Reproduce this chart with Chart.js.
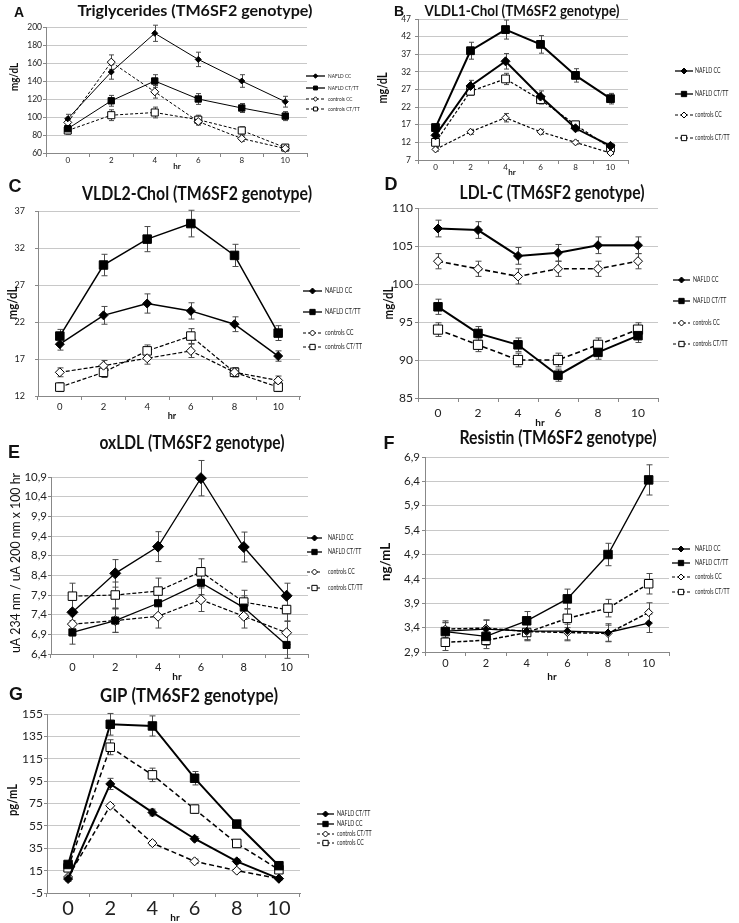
<!DOCTYPE html>
<html>
<head>
<meta charset="utf-8">
<script src="https://cdn.jsdelivr.net/npm/chart.js@4.4.0/dist/chart.umd.min.js"></script>
<style>
html, body { margin: 0; padding: 0; background: #fff; }
#wrap { position: relative; width: 739px; height: 923px; }
#wrap canvas { position: absolute; left: 0; top: 0; }
</style>
</head>
<body>
<div id="wrap">
<canvas id="pA" width="739" height="923"></canvas>
<canvas id="pB" width="739" height="923"></canvas>
<canvas id="pC" width="739" height="923"></canvas>
<canvas id="pD" width="739" height="923"></canvas>
<canvas id="pE" width="739" height="923"></canvas>
<canvas id="pF" width="739" height="923"></canvas>
<canvas id="pG" width="739" height="923"></canvas>
</div>
<script>
var hours = ['0', '2', '4', '6', '8', '10'];
var legendLabels = ['NAFLD CC', 'NAFLD CT/TT', 'controls CC', 'controls CT/TT'];
var gLegendLabels = ['NAFLD CT/TT', 'NAFLD CC', 'controls CT/TT', 'controls CC'];

// A  triglycerides
var aNafldCC = [98, 150, 193, 164, 140, 117];
var aNafldCCErr = [5, 8, 9, 8, 7, 6];
var aNafldCTTT = [87, 118, 140, 120, 110, 101];
var aNafldCTTTErr = [4, 6, 7, 6, 5, 5];
var aCtrlCC = [94, 161, 128, 95, 76, 65];
var aCtrlCCErr = [4, 8, 7, 4, 3, 2];
var aCtrlCTTT = [85, 102, 105, 97, 85, 66];
var aCtrlCTTTErr = [4, 6, 6, 5, 4, 2];
var aAxis = [60, 200, 20];

// B  VLDL1-Chol
var bNafldCC = [14, 28, 35, 25, 16, 11];
var bNafldCCErr = [1, 1.6, 2.2, 1.6, 0.8, 0.5];
var bNafldCTTT = [16.2, 38, 44, 39.8, 31, 24.4];
var bNafldCTTTErr = [1, 2.4, 2.7, 2.5, 1.9, 1.5];
var bCtrlCC = [10, 15, 19, 15, 12, 9];
var bCtrlCCErr = [0.5, 0.7, 1.2, 0.7, 0.5, 0.4];
var bCtrlCTTT = [12, 26.5, 30, 24.1, 17, 10.4];
var bCtrlCTTTErr = [1, 1.1, 1.6, 1.2, 0.9, 0.6];
var bAxis = [7, 47, 5];

// C  VLDL2-Chol
var cNafldCC = [19, 22.9, 24.5, 23.5, 21.7, 17.4];
var cNafldCCErr = [0.8, 1.2, 1.3, 1.1, 1, 0.7];
var cNafldCTTT = [20.1, 29.7, 33.2, 35.3, 31, 20.5];
var cNafldCTTTErr = [0.9, 1.45, 1.7, 1.8, 1.5, 1];
var cCtrlCC = [15.2, 16.1, 17.1, 18.1, 15.2, 14.1];
var cCtrlCCErr = [0.6, 0.7, 0.8, 0.9, 0.6, 0.6];
var cCtrlCTTT = [13.2, 15.2, 18.1, 20.1, 15.2, 13.2];
var cCtrlCTTTErr = [0.6, 0.7, 0.8, 1, 0.6, 0.6];
var cAxis = [12, 37, 5];

// D  LDL-C
var dNafldCC = [107.3, 107.1, 103.7, 104.1, 105.1, 105.1];
var dNafldCCErr = [1.1, 1.1, 1.1, 1.1, 1.1, 1.1];
var dNafldCTTT = [97, 93.5, 92, 88, 91, 93.2];
var dNafldCTTTErr = [1, 0.9, 0.9, 0.8, 0.9, 0.9];
var dCtrlCC = [103, 102, 101, 102, 102, 103];
var dCtrlCCErr = [1, 1, 1, 1, 1, 1];
var dCtrlCTTT = [94, 92, 90, 90, 92, 94];
var dCtrlCTTTErr = [0.9, 0.9, 0.9, 0.9, 0.9, 0.9];
var dAxis = [85, 110, 5];

// E  oxLDL
var eNafldCC = [7.46, 8.45, 9.13, 10.87, 9.12, 7.88];
var eNafldCCErr = [0.33, 0.35, 0.38, 0.45, 0.38, 0.32];
var eNafldCTTT = [6.95, 7.25, 7.69, 8.21, 7.58, 6.63];
var eNafldCTTTErr = [0.3, 0.3, 0.3, 0.3, 0.3, 0.34];
var eCtrlCC = [7.16, 7.25, 7.36, 7.78, 7.36, 6.94];
var eCtrlCCErr = [0.3, 0.3, 0.3, 0.3, 0.3, 0.3];
var eCtrlCTTT = [7.87, 7.9, 8.0, 8.49, 7.72, 7.53];
var eCtrlCTTTErr = [0.33, 0.33, 0.33, 0.33, 0.3, 0.3];
var eAxis = [6.4, 10.9, 0.5];

// F  resistin
var fNafldCC = [3.33, 3.37, 3.33, 3.33, 3.3, 3.49];
var fNafldCCErr = [0.18, 0.18, 0.18, 0.18, 0.18, 0.19];
var fNafldCTTT = [3.32, 3.22, 3.54, 3.99, 4.9, 6.43];
var fNafldCTTTErr = [0.18, 0.18, 0.19, 0.2, 0.23, 0.31];
var fCtrlCC = [3.37, 3.39, 3.32, 3.3, 3.28, 3.71];
var fCtrlCCErr = [0.17, 0.17, 0.17, 0.17, 0.17, 0.2];
var fCtrlCTTT = [3.1, 3.14, 3.3, 3.59, 3.8, 4.3];
var fCtrlCTTTErr = [0.17, 0.17, 0.17, 0.19, 0.18, 0.21];
var fAxis = [2.9, 6.9, 0.5];

// G  GIP (legend order differs)
var gNafldCTTT = [7.5, 92.5, 67, 43.5, 23.3, 7.8];
var gNafldCTTTErr = [2, 5, 3, 2, 2, 1];
var gNafldCC = [20.5, 145.8, 144.3, 97.6, 56.6, 19.4];
var gNafldCCErr = [2, 9.7, 9, 6, 3, 2];
var gCtrlCTTT = [9.3, 73, 39.6, 23.3, 15, 7.8];
var gCtrlCTTTErr = [1.5, 2, 2, 2, 1.5, 1];
var gCtrlCC = [17.5, 125.3, 100.6, 70, 39.3, 15.8];
var gCtrlCCErr = [2, 6.7, 6, 3.5, 2, 1.5];
var gAxis = [-5, 155, 20];

var W = 739, H = 923;
var FAM = 'Lato, "Open Sans", sans-serif';
var styles = [
  { ps: 'rectRot', fill: '#000', dashed: false },
  { ps: 'rect', fill: '#000', dashed: false },
  { ps: 'rectRot', fill: '#fff', dashed: true },
  { ps: 'rect', fill: '#fff', dashed: true }
];

function marker(ctx, ps, x, y, r, fill) {
  ctx.beginPath();
  if (ps === 'rect') {
    var s = r * Math.SQRT1_2;
    ctx.rect(x - s, y - s, 2 * s, 2 * s);
  } else {
    ctx.moveTo(x - r, y); ctx.lineTo(x, y - r); ctx.lineTo(x + r, y); ctx.lineTo(x, y + r);
    ctx.closePath();
  }
  ctx.fillStyle = fill; ctx.fill();
  ctx.strokeStyle = '#000'; ctx.lineWidth = 1; ctx.stroke();
}

// text centred at x,y; stretched to width w when given
function label(ctx, txt, x, y, font, w, rot) {
  ctx.save();
  ctx.font = font;
  ctx.translate(x, y);
  if (rot) ctx.rotate(-Math.PI / 2);
  if (w) ctx.scale(w / ctx.measureText(txt).width, 1);
  ctx.textAlign = 'center';
  ctx.textBaseline = 'middle';
  ctx.fillText(txt, 0, 0);
  ctx.restore();
}

function decor(p) {
  return {
    id: 'decor',
    beforeDatasetsDraw: function (chart) {
      var ctx = chart.ctx, ys = chart.scales.y;
      ctx.save();
      ctx.strokeStyle = '#4a4a4a';
      ctx.lineWidth = 1;
      p.errs.forEach(function (errs, i) {
        chart.getDatasetMeta(i).data.forEach(function (pt, j) {
          var v = p.series[i][j], e = errs[j];
          var y1 = ys.getPixelForValue(v + e), y2 = ys.getPixelForValue(v - e);
          var x = Math.round(pt.x) + 0.5;
          ctx.beginPath();
          ctx.moveTo(x, y1); ctx.lineTo(x, y2);
          ctx.moveTo(x - p.cap, y1); ctx.lineTo(x + p.cap, y1);
          ctx.moveTo(x - p.cap, y2); ctx.lineTo(x + p.cap, y2);
          ctx.stroke();
        });
      });
      ctx.restore();
    },
    afterDraw: function (chart) {
      var ctx = chart.ctx;
      ctx.save();
      ctx.fillStyle = '#111';
      label(ctx, p.letter[0], p.letter[1], p.letter[2], p.letter[3] + ' "Liberation Sans", Arial, sans-serif');
      label(ctx, p.title[0], p.title[1], p.title[2], p.title[4] + ' ' + FAM, p.title[3]);
      label(ctx, p.yTitle[0], p.yTitle[1], p.yTitle[2], p.yTitle[4] + ' ' + FAM, p.yTitle[3], true);
      label(ctx, 'hr', p.hr[0], p.hr[1], p.hr[2] + ' ' + FAM);
      var lg = p.leg;
      p.labels.forEach(function (lab, i) {
        var y = lg.ys[i];
        ctx.save();
        ctx.strokeStyle = '#000';
        ctx.lineWidth = styles[i].dashed ? 1 : 1.3;
        ctx.setLineDash(styles[i].dashed ? [3, 2] : []);
        ctx.beginPath(); ctx.moveTo(lg.x1, y); ctx.lineTo(lg.x2, y); ctx.stroke();
        ctx.setLineDash([]);
        marker(ctx, styles[i].ps, (lg.x1 + lg.x2) / 2, y, styles[i].ps === 'rect' ? lg.r * 1.25 : lg.r, styles[i].fill);
        ctx.restore();
        ctx.save();
        ctx.fillStyle = '#222';
        ctx.font = lg.font + ' ' + FAM;
        ctx.textAlign = 'left';
        ctx.textBaseline = 'middle';
        ctx.translate(lg.tx, y);
        ctx.scale(lg.sx, 1);
        ctx.fillText(lab, 0, 0);
        ctx.restore();
      });
      ctx.restore();
    }
  };
}

function panel(id, p) {
  var datasets = p.series.map(function (d, i) {
    var st = styles[i];
    return {
      label: p.labels[i],
      data: d,
      borderColor: '#000',
      borderWidth: st.dashed ? p.lwd : p.lw,
      borderDash: st.dashed ? p.dash : [],
      tension: 0,
      clip: false,
      fill: false,
      pointStyle: st.ps,
      pointRadius: p.r[i],
      pointHoverRadius: p.r[i],
      pointBackgroundColor: st.fill,
      pointBorderColor: '#000',
      pointBorderWidth: 1
    };
  });
  new Chart(document.getElementById(id), {
    type: 'line',
    data: { labels: hours, datasets: datasets },
    options: {
      responsive: false,
      animation: false,
      events: [],
      layout: { padding: { left: p.L - 40, top: p.T, right: W - p.R, bottom: H - p.B - 30 } },
      plugins: { legend: { display: false }, tooltip: { enabled: false } },
      scales: {
        x: {
          type: 'category',
          offset: true,
          grid: { offset: true, drawOnChartArea: false, tickLength: 4, color: '#888', tickColor: '#888' },
          border: { color: '#888' },
          ticks: { font: { size: p.xf, family: FAM }, color: '#222', padding: p.xpad, autoSkip: false, maxRotation: 0 },
          afterFit: function (s) { s.height = 30; }
        },
        y: {
          min: p.axis[0],
          max: p.axis[1],
          grid: { color: '#c8c8c8', tickLength: 3, tickColor: '#888' },
          border: { color: '#888' },
          ticks: {
            stepSize: p.axis[2],
            font: { size: p.yf, family: FAM },
            color: '#222',
            padding: p.ypad,
            autoSkip: false,
            callback: function (v) { return p.comma ? v.toFixed(1).replace('.', ',') : String(v); }
          },
          afterFit: function (s) { s.width = 40; }
        }
      }
    },
    plugins: [decor(p)]
  });
}

panel('pA', {
  L: 46, R: 307, T: 27, B: 153, axis: aAxis, yf: 8.5, ypad: 1, xf: 8, xpad: -1,
  series: [aNafldCC, aNafldCTTT, aCtrlCC, aCtrlCTTT],
  errs: [aNafldCCErr, aNafldCTTTErr, aCtrlCCErr, aCtrlCTTTErr],
  labels: legendLabels, r: [3, 4.5, 4, 5], lw: 1, lwd: 1, dash: [3, 2], cap: 2.5,
  letter: ['A', 19, 13, 'bold 14px'],
  title: ['Triglycerides (TM6SF2 genotype)', 195, 11, 235, 'bold 16px'],
  yTitle: ['mg/dL', 14, 77, 28, 'bold 12px'],
  hr: [177, 166, 'bold 8px'],
  leg: { x1: 306, x2: 325, tx: 328, ys: [76, 88, 99, 109], font: '6px', sx: 0.8, r: 2.2 }
});

panel('pB', {
  L: 418, R: 628, T: 19, B: 160, axis: bAxis, yf: 8.5, ypad: 4, xf: 8, xpad: -1,
  series: [bNafldCC, bNafldCTTT, bCtrlCC, bCtrlCTTT],
  errs: [bNafldCCErr, bNafldCTTTErr, bCtrlCCErr, bCtrlCTTTErr],
  labels: legendLabels, r: [4.5, 5.5, 3.5, 5.5], lw: 2, lwd: 1.2, dash: [3, 2], cap: 2.5,
  letter: ['B', 399, 12, 'bold 14px'],
  title: ['VLDL1-Chol (TM6SF2 genotype)', 522, 11, 195, 'bold 15px'],
  yTitle: ['mg/dL', 383, 88, 31, 'bold 13px'],
  hr: [512, 172, 'bold 8px'],
  leg: { x1: 675, x2: 693, tx: 695, ys: [71, 94, 115, 138], font: '7px', sx: 0.75, r: 3 }
});

panel('pC', {
  L: 38, R: 300, T: 211, B: 396, axis: cAxis, yf: 9, ypad: 10, xf: 9.5, xpad: 1,
  series: [cNafldCC, cNafldCTTT, cCtrlCC, cCtrlCTTT],
  errs: [cNafldCCErr, cNafldCTTTErr, cCtrlCCErr, cCtrlCTTTErr],
  labels: legendLabels, r: [4.5, 6, 4.5, 6], lw: 1.5, lwd: 1.2, dash: [4, 2], cap: 3,
  letter: ['C', 15, 187, 'bold 18px'],
  title: ['VLDL2-Chol (TM6SF2 genotype)', 197, 194, 230, 'bold 19px'],
  yTitle: ['mg/dL', 12, 303, 33, 'bold 14px'],
  hr: [172, 416, 'bold 9px'],
  leg: { x1: 303, x2: 322, tx: 325, ys: [291, 312, 333, 347], font: '7px', sx: 0.8, r: 3 }
});

panel('pD', {
  L: 418, R: 658, T: 208, B: 398, axis: dAxis, yf: 12, ypad: 2, xf: 12, xpad: 4,
  series: [dNafldCC, dNafldCTTT, dCtrlCC, dCtrlCTTT],
  errs: [dNafldCCErr, dNafldCTTTErr, dCtrlCCErr, dCtrlCTTTErr],
  labels: legendLabels, r: [4.5, 6, 4.5, 6.5], lw: 2, lwd: 1.6, dash: [5, 3], cap: 3,
  letter: ['D', 391, 185, 'bold 18px'],
  title: ['LDL-C (TM6SF2 genotype)', 552, 193, 185, 'bold 19px'],
  yTitle: ['mg/dL', 388, 303, 33, 'bold 14px'],
  hr: [540, 423, 'bold 10px'],
  leg: { x1: 673, x2: 690, tx: 693, ys: [280, 301, 323, 344], font: '7px', sx: 0.75, r: 3 }
});

panel('pE', {
  L: 51, R: 308, T: 477, B: 654, axis: eAxis, yf: 11.5, ypad: 1, xf: 11, xpad: 3, comma: true,
  series: [eNafldCC, eNafldCTTT, eCtrlCC, eCtrlCTTT],
  errs: [eNafldCCErr, eNafldCTTTErr, eCtrlCCErr, eCtrlCTTTErr],
  labels: legendLabels, r: [5.5, 5, 5, 6], lw: 1.3, lwd: 1.2, dash: [4, 2], cap: 3,
  letter: ['E', 14, 453, 'bold 18px'],
  title: ['oxLDL (TM6SF2 genotype)', 192, 443, 185, 'bold 19px'],
  yTitle: ['uA 234 nm / uA 200 nm x 100 hr', 16, 563, 180, '13px'],
  hr: [177, 677, 'bold 10px'],
  leg: { x1: 307, x2: 322, tx: 328, ys: [538, 552, 572, 588], font: '7px', sx: 0.75, r: 3 }
});

panel('pF', {
  L: 425, R: 669, T: 457, B: 652, axis: fAxis, yf: 11.5, ypad: 2, xf: 11, xpad: 1, comma: true,
  series: [fNafldCC, fNafldCTTT, fCtrlCC, fCtrlCTTT],
  errs: [fNafldCCErr, fNafldCTTTErr, fCtrlCCErr, fCtrlCTTTErr],
  labels: legendLabels, r: [3.5, 6, 4, 6], lw: 1.3, lwd: 1.5, dash: [4, 2], cap: 3,
  letter: ['F', 389, 444, 'bold 18px'],
  title: ['Resistin (TM6SF2 genotype)', 558, 438, 197, 'bold 19px'],
  yTitle: ['ng/mL', 385, 562, 38, 'bold 14px'],
  hr: [552, 677, 'bold 10px'],
  leg: { x1: 672, x2: 690, tx: 695, ys: [549, 563, 577, 592], font: '7px', sx: 0.75, r: 3 }
});

panel('pG', {
  L: 47, R: 300, T: 714, B: 893, axis: gAxis, yf: 12, ypad: 1, xf: 20, xpad: 0,
  series: [gNafldCTTT, gNafldCC, gCtrlCTTT, gCtrlCC],
  errs: [gNafldCTTTErr, gNafldCCErr, gCtrlCTTTErr, gCtrlCCErr],
  labels: gLegendLabels, r: [4.5, 6, 4.5, 6], lw: 2, lwd: 1.5, dash: [5, 3], cap: 3,
  letter: ['G', 16, 695, 'bold 18px'],
  title: ['GIP (TM6SF2 genotype)', 189, 696, 178, 'bold 19px'],
  yTitle: ['pg/mL', 12, 800, 32, 'bold 14px'],
  hr: [175, 918, 'bold 10px'],
  leg: { x1: 317, x2: 334, tx: 337, ys: [814, 824, 834, 843], font: '7px', sx: 0.75, r: 3 }
});
</script>
</body>
</html>
